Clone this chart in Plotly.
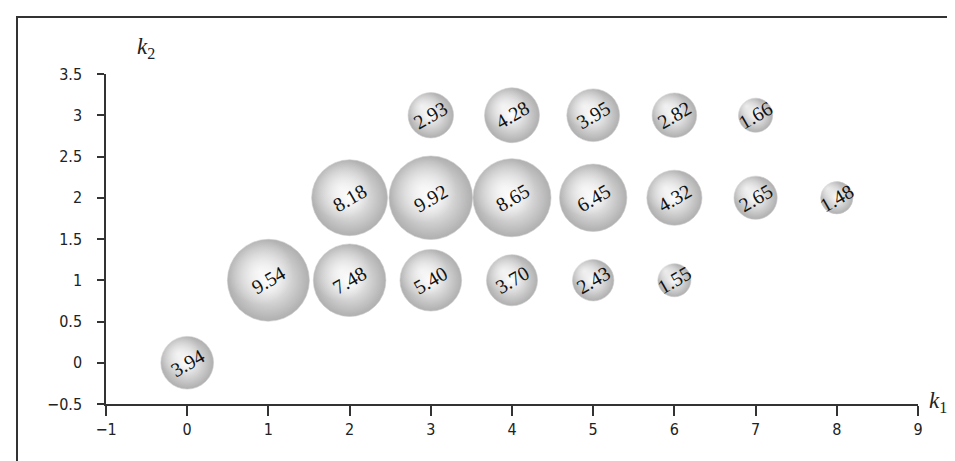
import plotly.graph_objects as go

# bubble positions (k1, k2) and the value printed on each sphere
k1 = [0, 1, 2, 3, 4, 5, 6, 2, 3, 4, 5, 6, 7, 8, 3, 4, 5, 6, 7]
k2 = [0, 1, 1, 1, 1, 1, 1, 2, 2, 2, 2, 2, 2, 2, 3, 3, 3, 3, 3]
vals = [3.94,
        9.54, 7.48, 5.40, 3.70, 2.43, 1.55,
        8.18, 9.92, 8.65, 6.45, 4.32, 2.65, 1.48,
        2.93, 4.28, 3.95, 2.82, 1.66]

x_ticks = list(range(-1, 10))
y_ticks = [-0.5, 0, 0.5, 1, 1.5, 2, 2.5, 3, 3.5]

W, H = 955, 461
L, R, T, B = 98, 45, 66, 65
pw, ph = W - L - R, H - T - B

SIZEREF = 1 / 352.0  # area mode: diameter ~ 26.5*sqrt(v)
HL = 0.11             # highlight nudge (axis units) toward upper-left

fig = go.Figure()
# base sphere: light centre fading to grey rim (gradient.color = centre)
fig.add_trace(go.Scatter(
    x=k1, y=k2, mode="markers", hoverinfo="skip",
    marker=dict(size=vals, sizemode="area", sizeref=SIZEREF,
                color="#8e8e8e",
                gradient=dict(type="radial", color="#ffffff"),
                line=dict(width=0.6, color="#b4b4b4")),
))
# soft highlight drawn on a slightly shifted overlay axis -> upper-left glint
fig.add_trace(go.Scatter(
    x=k1, y=k2, mode="markers", hoverinfo="skip", xaxis="x2", yaxis="y2",
    marker=dict(size=vals, sizemode="area", sizeref=SIZEREF * 1.5,
                color="rgba(255,255,255,0)",
                gradient=dict(type="radial", color="rgba(255,255,255,1)"),
                line=dict(width=0)),
))

for x, y, v in zip(k1, k2, vals):
    fig.add_annotation(x=x, y=y, text=f"{v:.2f}", showarrow=False,
                       textangle=-30,
                       font=dict(family="Liberation Serif, serif",
                                 size=20, color="#111"))

tick_font = dict(family="Liberation Sans Narrow, DejaVu Sans Condensed, Arial Narrow, sans-serif",
                 size=16, color="#222")

fig.update_layout(
    xaxis=dict(range=[-1, 9], tickvals=x_ticks, ticks="outside", ticklen=10,
               tickwidth=1.5, tickcolor="#333", showline=True, linecolor="#333",
               linewidth=1.5, showgrid=False, zeroline=False, tickfont=tick_font,
               ticklabelstandoff=0),
    yaxis=dict(range=[-0.5, 3.5], tickvals=y_ticks, ticks="outside", ticklen=7,
               tickwidth=1.5, tickcolor="#333", showline=True, linecolor="#333",
               linewidth=1.5, showgrid=False, zeroline=False, tickfont=tick_font,
               ticklabelstandoff=12),
    xaxis2=dict(overlaying="x", range=[-1 + HL, 9 + HL], visible=False),
    yaxis2=dict(overlaying="y", range=[-0.5 - HL, 3.5 - HL], visible=False),
)

# axis titles
ital = dict(family="Liberation Serif, serif", size=23, color="#222")
fig.add_annotation(xref="paper", yref="paper", x=(127 - L) / pw, y=(H - B - 24) / ph,
                   text="<i>k</i><sub>2</sub>", showarrow=False, font=ital)
fig.add_annotation(xref="paper", yref="paper", x=(941 - L) / pw, y=(H - B - 410) / ph,
                   text="<i>k</i><sub>1</sub>", showarrow=False, font=ital)

# frame around the figure (top and left edges visible)
fig.add_shape(type="rect", xref="paper", yref="paper",
              x0=(9 - L) / pw, x1=(965 - L) / pw,
              y0=(H - B - 475) / ph, y1=(H - B - 9) / ph,
              line=dict(color="#333", width=2))

fig.update_layout(
    width=W, height=H, showlegend=False,
    margin=dict(l=L, r=R, t=T, b=B),
    paper_bgcolor="white", plot_bgcolor="white",
)

fig.write_html("out.html")
